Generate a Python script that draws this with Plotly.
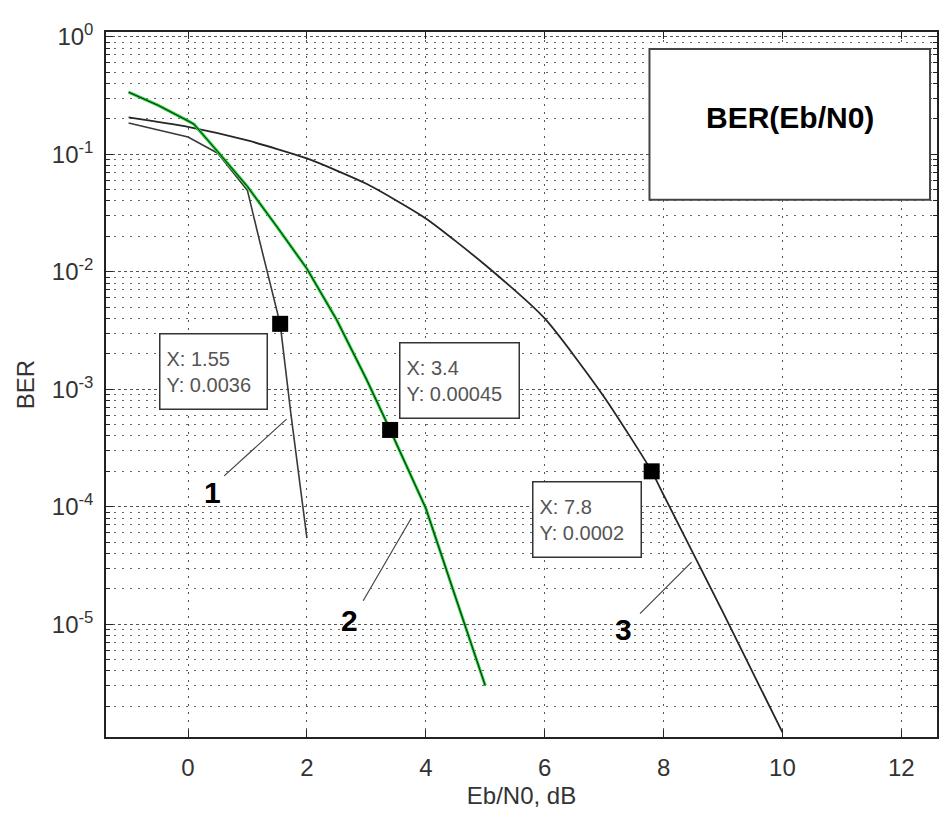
import math
import plotly.graph_objects as go

# ---------------- data ----------------
curve1_x = [-1, 0, 0.5, 1.0, 1.2, 1.37, 1.55, 1.73, 1.87, 2.0]
curve1_y = [0.184, 0.14, 0.102, 0.049, 0.0186, 0.0085, 0.0036, 6.2e-4, 1.7e-4, 5.4e-5]

curve2_x = [-1, -0.5, 0, 0.1, 0.5, 1, 1.5, 2, 2.5, 3, 3.4, 4, 4.5, 5]
curve2_y = [0.337, 0.26, 0.192, 0.18, 0.105, 0.053, 0.024, 0.0106, 0.0039, 0.00122, 0.00045, 9.7e-5, 1.7e-5, 3e-6]

curve3_x = [-1, 0, 1, 2, 3, 4, 5, 6, 7, 7.8, 8, 9, 10]
curve3_y = [0.206, 0.171, 0.131, 0.092, 0.056, 0.0284, 0.0114, 0.004, 8.6e-4, 2e-4, 1.26e-4, 1.26e-5, 1.2e-6]

tip_x = [1.55, 3.4, 7.8]
tip_y = [0.0036, 0.00045, 0.0002]

curve_labels = ["1", "2", "3"]

x_tickvals = [0, 2, 4, 6, 8, 10, 12]
y_tickvals = [1, 0.1, 0.01, 0.001, 0.0001, 0.00001]
y_ticktext = ["10<sup>0</sup>", "10<sup>-1</sup>", "10<sup>-2</sup>",
              "10<sup>-3</sup>", "10<sup>-4</sup>", "10<sup>-5</sup>"]
y_minor = [m * 10.0 ** e for e in range(-6, 0) for m in range(2, 10)]

title_text = "<b>BER(Eb/N0)</b>"

# ---------------- figure ----------------
FONT = "Liberation Sans, Arial, Helvetica, sans-serif"
fig = go.Figure()

fig.add_trace(go.Scatter(x=curve1_x, y=curve1_y, mode="lines",
                         line=dict(color="#3a3a3a", width=1.6), hoverinfo="skip"))
fig.add_trace(go.Scatter(x=curve3_x, y=curve3_y, mode="lines",
                         line=dict(color="#262626", width=1.8, shape="spline", smoothing=0.6),
                         hoverinfo="skip"))
fig.add_trace(go.Scatter(x=curve2_x, y=curve2_y, mode="lines",
                         line=dict(color="#18d030", width=3), hoverinfo="skip"))
fig.add_trace(go.Scatter(x=curve2_x, y=curve2_y, mode="lines",
                         line=dict(color="#1a1a1a", width=1), hoverinfo="skip"))
fig.add_trace(go.Scatter(x=tip_x, y=tip_y, mode="markers",
                         marker=dict(symbol="square", size=16, color="black",
                                     line=dict(width=0)), hoverinfo="skip"))

annotations = []

# data-tip boxes (pixel offsets from each tip, box sizes)
tip_layout = [(-67, -48, 94), (69, 49, 106), (-65, -48, 95)]
for tx, ty, (dx, dy, w) in zip(tip_x, tip_y, tip_layout):
    annotations.append(dict(
        x=tx, y=math.log10(ty), xref="x", yref="y",
        text=f"X: {tx}<br>Y: {ty}", showarrow=False,
        xshift=dx, yshift=dy, width=w, height=62, align="left",
        font=dict(family=FONT, size=20, color="#555555"),
        bgcolor="white", bordercolor="#333333", borderwidth=1.5, borderpad=6))

# leader lines (end near curve, start near label) and curve number labels
leader = [((1.657, -3.255), (0.583, -3.749), (0.41, -3.877)),
          ((3.755, -4.098), (2.932, -4.813), (2.72, -4.966)),
          ((8.471, -4.472), (7.579, -4.923), (7.33, -5.043))]
for lab, ((ex, ey), (sx, sy), (lx, ly)) in zip(curve_labels, leader):
    annotations.append(dict(
        x=ex, y=ey, xref="x", yref="y", ax=sx, ay=sy, axref="x", ayref="y",
        text="", showarrow=True, arrowhead=0, arrowwidth=1.2,
        arrowcolor="#444444", standoff=0, startstandoff=0))
    annotations.append(dict(
        x=lx, y=ly, xref="x", yref="y", text=f"<b>{lab}</b>", showarrow=False,
        font=dict(family=FONT, size=30, color="black")))

# title box
annotations.append(dict(
    x=0.823, y=0.879, xref="paper", yref="paper", xanchor="center", yanchor="middle",
    text=title_text, showarrow=False, font=dict(family=FONT, size=30, color="black")))

fig.add_shape(type="rect", xref="paper", yref="paper",
              x0=0.654, x1=0.9916, y0=0.762, y1=0.976,
              fillcolor="white", line=dict(color="#444444", width=2), layer="above")

fig.update_layout(
    width=939, height=814,
    margin=dict(l=106, r=0, t=32, b=77),
    plot_bgcolor="white", paper_bgcolor="white",
    showlegend=False,
    font=dict(family=FONT, size=24, color="#333333"),
    annotations=annotations,
)

fig.update_xaxes(
    range=[-1.38, 12.6], tickmode="array", tickvals=x_tickvals,
    ticks="inside", ticklen=7, tickwidth=1.2, tickcolor="#222",
    showline=True, linecolor="#222", linewidth=1.5, mirror="allticks",
    showgrid=True, gridcolor="#555", gridwidth=1, griddash="2px,6px",
    zeroline=False, ticklabelstandoff=8,
    title=dict(text="Eb/N0, dB", standoff=8, font=dict(size=24, color="#333")),
)

fig.update_yaxes(
    type="log", range=[-5.96, 0.04], tickmode="array",
    tickvals=y_tickvals, ticktext=y_ticktext,
    ticks="inside", ticklen=7, tickwidth=1.2, tickcolor="#222",
    showline=True, linecolor="#222", linewidth=1.5, mirror="allticks",
    showgrid=True, gridcolor="#555", gridwidth=1, griddash="3px,3px",
    zeroline=False, ticklabelstandoff=6,
    minor=dict(tickmode="array", tickvals=y_minor, ticks="inside", ticklen=4,
               tickcolor="#222", showgrid=True, gridcolor="#666",
               gridwidth=1, griddash="2px,6px"),
    title=dict(text="BER", standoff=10, font=dict(size=24, color="#333")),
)

fig.write_html("out.html")
